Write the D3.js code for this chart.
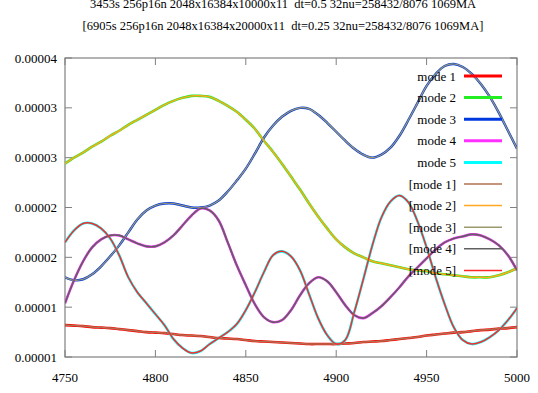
<!DOCTYPE html>
<html><head><meta charset="utf-8">
<script src="https://cdn.jsdelivr.net/npm/d3@7"></script>
<style>body{margin:0;background:#fff}svg{display:block}text{font-family:"Liberation Serif","Times New Roman",serif;fill:#000;white-space:pre}</style>
</head><body><svg id="c" width="538" height="393"></svg>
<script>
const titleLines = ["3453s 256p16n 2048x16384x10000x11  dt=0.5 32nu=258432/8076 1069MA",
                    "[6905s 256p16n 2048x16384x20000x11  dt=0.25 32nu=258432/8076 1069MA]"];
const xTicks = [4750, 4800, 4850, 4900, 4950, 5000];
// y values in units of 1e-5
const yTicks = [1, 1.5, 2, 2.5, 3, 3.5, 4];
const yTickLabels = ["0.00001","0.00001","0.00002","0.00002","0.00003","0.00003","0.00004"];
const t = d3.range(4750, 5001, 5);
const mode1 = [1.32,1.315,1.31,1.30,1.295,1.29,1.28,1.27,1.26,1.25,1.245,1.24,1.23,1.22,1.215,1.21,1.20,1.19,1.185,1.18,1.17,1.16,1.155,1.15,1.145,1.14,1.135,1.13,1.13,1.13,1.13,1.135,1.14,1.15,1.155,1.16,1.17,1.18,1.19,1.20,1.215,1.225,1.235,1.245,1.25,1.26,1.27,1.275,1.285,1.29,1.30];
const mode2 = [2.94,3.00,3.05,3.11,3.16,3.22,3.27,3.33,3.38,3.43,3.48,3.53,3.57,3.60,3.62,3.62,3.61,3.57,3.52,3.46,3.38,3.29,3.17,3.06,2.94,2.81,2.68,2.54,2.41,2.29,2.18,2.10,2.04,2.00,1.96,1.94,1.92,1.90,1.88,1.87,1.86,1.84,1.83,1.82,1.81,1.80,1.80,1.80,1.82,1.85,1.89];
const mode3 = [1.80,1.77,1.78,1.83,1.91,2.01,2.12,2.25,2.38,2.47,2.52,2.54,2.54,2.52,2.50,2.50,2.52,2.57,2.66,2.77,2.89,3.04,3.20,3.32,3.41,3.47,3.50,3.49,3.43,3.35,3.26,3.17,3.09,3.03,3.00,3.03,3.10,3.22,3.38,3.55,3.72,3.84,3.92,3.94,3.91,3.84,3.74,3.61,3.45,3.27,3.09];
const mode4 = [1.54,1.77,1.96,2.10,2.18,2.22,2.22,2.18,2.14,2.11,2.11,2.15,2.22,2.32,2.42,2.49,2.47,2.37,2.15,1.92,1.72,1.53,1.40,1.35,1.37,1.47,1.62,1.74,1.80,1.76,1.65,1.52,1.42,1.39,1.44,1.51,1.60,1.70,1.81,1.90,1.99,2.08,2.15,2.19,2.21,2.23,2.22,2.18,2.12,2.02,1.87];
const mode5 = [2.15,2.27,2.34,2.34,2.29,2.19,2.02,1.80,1.65,1.54,1.43,1.32,1.18,1.09,1.04,1.06,1.13,1.19,1.25,1.33,1.47,1.65,1.85,2.02,2.06,2.01,1.87,1.63,1.39,1.22,1.13,1.17,1.45,1.78,2.12,2.40,2.56,2.62,2.55,2.36,2.10,1.80,1.53,1.30,1.17,1.13,1.15,1.20,1.27,1.37,1.49];
const seriesNames = ["mode 1","mode 2","mode 3","mode 4","mode 5","[mode 1]","[mode 2]","[mode 3]","[mode 4]","[mode 5]"];
const seriesValues = [mode1, mode2, mode3, mode4, mode5, mode1, mode2, mode3, mode4, mode5];
const seriesColors = ["#ff0000","#22ee22","#0038e0","#ff30ff","#00ffff","#b07050","#ffa820","#9a9a70","#606060","#ff2828"];
const plotWidths = [2.6,2.6,2.4,2.6,2.6,1.5,1.5,1.2,1.6,1.5];
const legendWidths = [3,3,3,3,3,1.5,1.5,1.5,1.5,1.5];

const svg = d3.select("#c");
const L = 65, R = 517, T = 58, B = 357;
const x = d3.scaleLinear().domain([4750, 5000]).range([L, R]);
const y = d3.scaleLinear().domain([1, 4]).range([B, T]);

svg.selectAll("text.title").data(titleLines).join("text")
  .attr("x", 283).attr("y", (d,i) => 8 + i*22).attr("text-anchor","middle")
  .style("font-size","12.5px").text(d => d);

svg.append("defs").append("clipPath").attr("id","clip").append("rect")
  .attr("x", L).attr("y", T).attr("width", R-L).attr("height", B-T);

const frameColor = "#808080";
const g = svg.append("g");
xTicks.forEach(v => {
  g.append("line").attr("x1", x(v)).attr("x2", x(v)).attr("y1", B).attr("y2", B-7).attr("stroke", frameColor);
  g.append("line").attr("x1", x(v)).attr("x2", x(v)).attr("y1", T).attr("y2", T+7).attr("stroke", frameColor);
  g.append("text").attr("x", x(v)).attr("y", 381.5).attr("text-anchor","middle").style("font-size","13px").text(v);
});
yTicks.forEach((v,i) => {
  g.append("line").attr("x1", L).attr("x2", L+7).attr("y1", y(v)).attr("y2", y(v)).attr("stroke", frameColor);
  g.append("line").attr("x1", R).attr("x2", R-7).attr("y1", y(v)).attr("y2", y(v)).attr("stroke", frameColor);
  g.append("text").attr("x", 57).attr("y", y(v)+4.5).attr("text-anchor","end").style("font-size","13px").text(yTickLabels[i]);
});
svg.append("rect").attr("x", L).attr("y", T).attr("width", R-L).attr("height", B-T)
  .attr("fill","none").attr("stroke", frameColor).attr("stroke-width",1.2);

const line = d3.line().x((d,i) => x(t[i])).y(d => y(d)).curve(d3.curveCatmullRom.alpha(0.5));
svg.append("g").attr("clip-path","url(#clip)").selectAll("path").data(seriesValues).join("path")
  .attr("d", d => line(d)).attr("fill","none")
  .attr("stroke", (d,i) => seriesColors[i]).attr("stroke-width", (d,i) => plotWidths[i])
  .attr("stroke-linejoin","round");

const leg = svg.append("g");
seriesNames.forEach((n,i) => {
  const yy = 76 + i*21.6;
  leg.append("text").attr("x", 456).attr("y", yy+4.5).attr("text-anchor","end").style("font-size","13px").text(n);
  leg.append("line").attr("x1", 464).attr("x2", 502).attr("y1", yy).attr("y2", yy)
    .attr("stroke", seriesColors[i]).attr("stroke-width", legendWidths[i]);
});
</script></body></html>
